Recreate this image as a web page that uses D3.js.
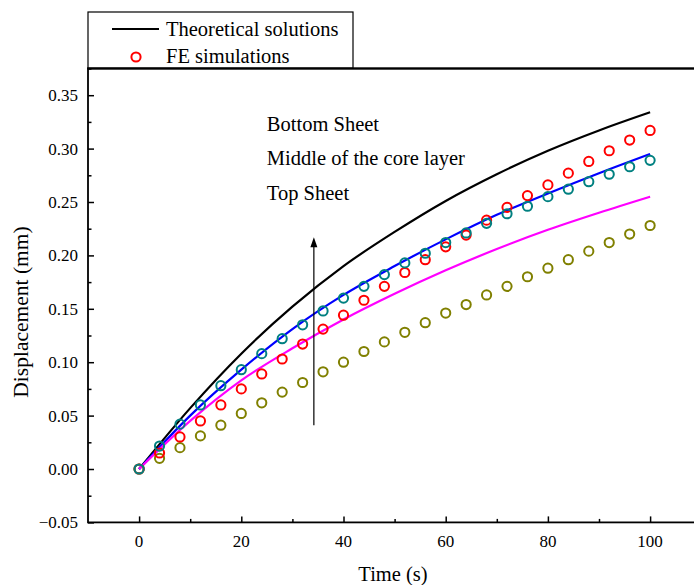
<!DOCTYPE html>
<html lang="en">
<head>
  <meta charset="UTF-8">
  <title>Displacement vs time</title>
  <script src="https://d3js.org/d3.v7.min.js"></script>
  <style>
    body { margin: 0; background: #fff; }
    svg { display: block; font-family: "Liberation Serif", "Times New Roman", serif; }
    .tick-label { font-size: 17px; fill: #000; }
  </style>
</head>
<body>
  <svg width="694" height="585"></svg>

  <script>
    // FE simulation points (every 4 s)
    const timeFE = [0, 4, 8, 12, 16, 20, 24, 28, 32, 36, 40, 44, 48, 52, 56, 60, 64, 68, 72, 76, 80, 84, 88, 92, 96, 100];
    const feRed = [0, 0.015, 0.030, 0.045, 0.060, 0.075, 0.089, 0.103, 0.117, 0.131, 0.144, 0.158, 0.171, 0.184, 0.196, 0.208, 0.219, 0.233, 0.245, 0.256, 0.266, 0.277, 0.288, 0.298, 0.308, 0.317];
    const feTeal = [0, 0.0215, 0.042, 0.060, 0.078, 0.093, 0.108, 0.122, 0.135, 0.148, 0.160, 0.171, 0.182, 0.193, 0.202, 0.212, 0.221, 0.230, 0.239, 0.246, 0.255, 0.262, 0.269, 0.276, 0.283, 0.289];
    const feOlive = [0, 0.010, 0.020, 0.031, 0.041, 0.052, 0.062, 0.072, 0.081, 0.091, 0.100, 0.110, 0.119, 0.128, 0.137, 0.146, 0.154, 0.163, 0.171, 0.180, 0.188, 0.196, 0.204, 0.212, 0.220, 0.228];

    // theoretical curves
    const timeTheory = [0, 10, 20, 30, 40, 50, 60, 70, 80, 90, 100];
    const theoryBlack = [0, 0.057, 0.108, 0.152, 0.190, 0.222, 0.251, 0.276, 0.298, 0.317, 0.334];
    const theoryBlue = [0, 0.050, 0.093, 0.131, 0.163, 0.190, 0.215, 0.238, 0.258, 0.277, 0.295];
    const theoryMagenta = [0, 0.045, 0.083, 0.113, 0.140, 0.164, 0.186, 0.206, 0.224, 0.240, 0.255];

    const xTicks = [0, 20, 40, 60, 80, 100];
    const yTicks = [-0.05, 0, 0.05, 0.10, 0.15, 0.20, 0.25, 0.30, 0.35];

    const annotations = ["Bottom Sheet", "Middle of the core layer", "Top Sheet"];
    const annotationX = 25;
    const annotationY = [0.3165, 0.2846, 0.2519];
    const arrowX = 34.2, arrowFrom = 0.041, arrowTo = 0.217;

    const svg = d3.select("svg");

    const x = d3.scaleLinear().domain([-10, 110]).range([88, 701.2]);
    const y = d3.scaleLinear().domain([-0.05, 0.375]).range([522.4, 68.5]);

    // frame (right side is cut by the picture edge)
    svg.append("rect")
      .attr("x", x(-10)).attr("y", y(0.375))
      .attr("width", x(110) - x(-10)).attr("height", y(-0.05) - y(0.375))
      .attr("fill", "none").attr("stroke", "#000").attr("stroke-width", 1.8);

    // bottom axis
    const gx = svg.append("g").attr("transform", `translate(0,${y(-0.05)})`);
    gx.call(d3.axisBottom(x).tickValues(d3.range(0, 101, 10)).tickSize(0).tickFormat(""));
    gx.select(".domain").remove();
    gx.selectAll(".tick line").remove();
    gx.selectAll(".tick").append("line")
      .attr("y2", d => d % 20 === 0 ? -6 : -3.5)
      .attr("stroke", "#000").attr("stroke-width", 1.5);
    svg.selectAll(".xlab").data(xTicks).enter().append("text")
      .attr("class", "tick-label")
      .attr("x", d => x(d)).attr("y", 547)
      .attr("text-anchor", "middle")
      .text(d => d);

    // left axis
    const gy = svg.append("g").attr("transform", `translate(${x(-10)},0)`);
    gy.call(d3.axisLeft(y).tickValues(d3.range(-0.05, 0.3751, 0.025)).tickSize(0).tickFormat(""));
    gy.select(".domain").remove();
    gy.selectAll(".tick line").remove();
    gy.selectAll(".tick").append("line")
      .attr("x2", (d, i) => i % 2 === 0 ? 6 : 3.5)
      .attr("stroke", "#000").attr("stroke-width", 1.5);
    svg.selectAll(".ylab").data(yTicks).enter().append("text")
      .attr("class", "tick-label")
      .attr("x", 78).attr("y", d => y(d)).attr("dy", "0.35em")
      .attr("text-anchor", "end")
      .text(d => d3.format(".2f")(d));

    // axis titles
    svg.append("text")
      .attr("x", 393).attr("y", 581)
      .attr("text-anchor", "middle").attr("font-size", 20.5)
      .text("Time (s)");
    svg.append("text")
      .attr("transform", "translate(28,312) rotate(-90)")
      .attr("text-anchor", "middle").attr("font-size", 21.5)
      .text("Displacement (mm)");

    // theory lines
    const line = d3.line().x(d => x(d[0])).y(d => y(d[1])).curve(d3.curveMonotoneX);
    [[theoryBlack, "#000000"], [theoryBlue, "#0000ff"], [theoryMagenta, "#ff00ff"]].forEach(([vals, c]) => {
      svg.append("path")
        .datum(timeTheory.map((t, i) => [t, vals[i]]))
        .attr("d", line)
        .attr("fill", "none").attr("stroke", c).attr("stroke-width", 2.2);
    });

    // FE points
    [[feOlive, "#808000"], [feRed, "#ff0000"], [feTeal, "#008080"]].forEach(([vals, c]) => {
      svg.append("g").selectAll("circle")
        .data(timeFE.map((t, i) => [t, vals[i]]))
        .enter().append("circle")
          .attr("cx", d => x(d[0])).attr("cy", d => y(d[1]))
          .attr("r", 4.6)
          .attr("fill", "none").attr("stroke", c).attr("stroke-width", 2);
    });

    // arrow and labels
    svg.append("line")
      .attr("x1", x(arrowX)).attr("x2", x(arrowX))
      .attr("y1", y(arrowFrom)).attr("y2", y(arrowTo) + 8)
      .attr("stroke", "#000").attr("stroke-width", 1.2);
    svg.append("path")
      .attr("d", `M${x(arrowX)},${y(arrowTo)} l-3.5,10 l7,0 Z`)
      .attr("fill", "#000");
    svg.selectAll(".anno").data(annotations).enter().append("text")
      .attr("x", x(annotationX)).attr("y", (d, i) => y(annotationY[i]))
      .attr("font-size", 20.5)
      .text(d => d);

    // legend
    const lg = svg.append("g");
    lg.append("rect").attr("x", 88).attr("y", 12).attr("width", 265).attr("height", 56)
      .attr("fill", "#fff").attr("stroke", "#000").attr("stroke-width", 1.2);
    lg.append("line").attr("x1", 112).attr("x2", 159).attr("y1", 29).attr("y2", 29)
      .attr("stroke", "#000").attr("stroke-width", 2.2);
    lg.append("circle").attr("cx", 136).attr("cy", 57).attr("r", 4.6)
      .attr("fill", "none").attr("stroke", "#ff0000").attr("stroke-width", 2);
    lg.append("text").attr("x", 166).attr("y", 36).attr("font-size", 20.5).text("Theoretical solutions");
    lg.append("text").attr("x", 166).attr("y", 63).attr("font-size", 20.5).text("FE simulations");
    // redraw top border of frame over legend edge
    svg.append("line").attr("x1", 87).attr("x2", 694).attr("y1", y(0.375)).attr("y2", y(0.375))
      .attr("stroke", "#000").attr("stroke-width", 1.8);
  </script>
</body>
</html>
